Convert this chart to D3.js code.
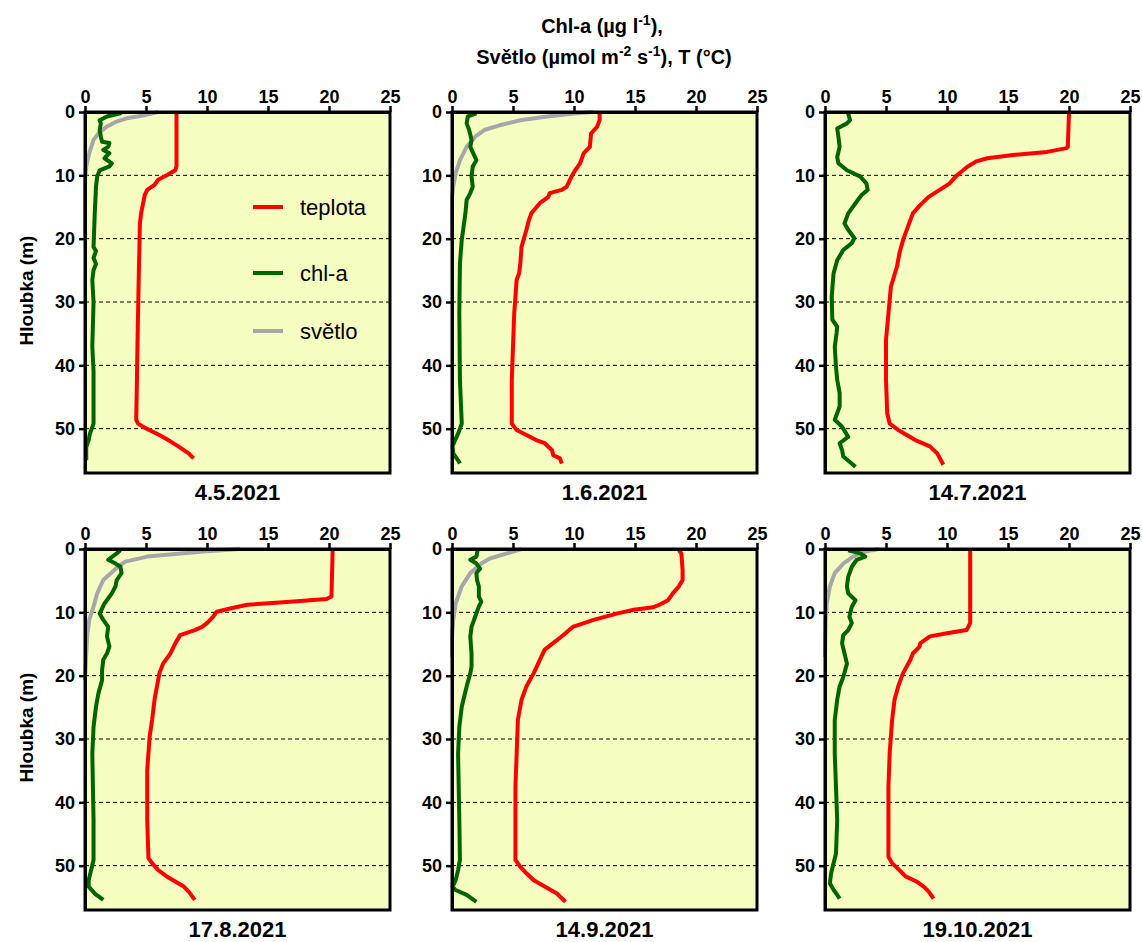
<!DOCTYPE html>
<html>
<head>
<meta charset="utf-8">
<title>Profily</title>
<script src="https://cdn.jsdelivr.net/npm/d3@7"></script>
<style>
  body { margin: 0; background: #fff; }
  svg { font-family: Arial, "Liberation Sans", sans-serif; }
  .tick text { font-weight: bold; font-size: 18px; fill: #000; }
</style>
</head>
<body>
<svg width="1142" height="942"></svg>
<script>
// panel titles (dates)
const dates = ["4.5.2021", "1.6.2021", "14.7.2021", "17.8.2021", "14.9.2021", "19.10.2021"];
const xTicks = [0, 5, 10, 15, 20, 25];
const yTicks = [0, 10, 20, 30, 40, 50];
const gridDepths = [10, 20, 30, 40, 50];

// [depth m, value] pairs
const teplota1 = [[0.1,7.5],[8.6,7.5],[9.2,7.4],[10,6.7],[10.7,6.0],[11.5,5.7],[12.3,5.1],[13.1,4.9],[16,4.6],[17.6,4.5],[26.5,4.4],[37,4.3],[48.6,4.2],[49.2,4.35],[50,5.05],[51,6.1],[52,7.0],[52.8,7.65],[53.9,8.5],[54.7,8.9]];
const chla1 = [[0.1,2.7],[0.2,2.9],[0.7,1.8],[1.3,1.2],[1.8,1.3],[2.9,1.2],[3.9,1.3],[4.7,1.4],[4.9,2.0],[5.5,1.9],[6.0,1.5],[6.5,2.0],[7.3,1.6],[8.1,2.2],[8.6,2.0],[9.2,1.2],[10.2,1.0],[11.8,0.9],[16,0.8],[21.3,0.7],[22,0.9],[23,0.7],[24,0.9],[25,0.7],[26.5,0.6],[30,0.7],[37,0.6],[41,0.7],[47.6,0.7],[49.2,0.7],[50.8,0.4],[51.8,0.3],[52.9,0.1],[55,0.1]];
const svetlo1 = [[0,6.0],[0.5,4.9],[1,3.4],[1.5,2.6],[2.3,1.8],[3.4,1.1],[4.4,0.7],[6.5,0.35],[8.6,0.1],[10.7,0],[19.7,0]];

const teplota2 = [[0.2,12.1],[1.3,12.1],[2.3,11.9],[3.4,11.4],[5.5,11.3],[6.5,10.8],[8.1,10.5],[9.2,10.1],[10.2,9.8],[11.8,9.4],[12.3,9.0],[12.8,8.0],[13.4,7.9],[14.4,7.2],[16,6.5],[17.1,6.3],[18.6,6.1],[21.3,5.7],[23.9,5.6],[25.5,5.5],[26.5,5.3],[31.8,5.1],[37,5.0],[42.3,4.9],[49.2,4.9],[50.2,5.3],[51,6.1],[51.8,6.9],[52.3,7.6],[53.4,8.2],[54.2,8.3],[54.7,8.85],[55.5,9.0]];
const chla2 = [[0.2,2.0],[0.7,1.3],[1.8,1.2],[2.8,1.4],[4.4,1.6],[5.5,1.5],[7.6,2.0],[8.6,1.7],[10.2,1.6],[11.8,1.7],[12.8,1.5],[13.9,1.2],[16,1.1],[20.2,0.8],[23.9,0.65],[31.8,0.6],[42.3,0.65],[49.2,0.8],[50.8,0.5],[51.8,0.25],[52.8,0.05],[53.9,0.1],[55,0.5],[55.5,0.65]];
const svetlo2 = [[0,11.6],[0.2,10.2],[0.7,7.8],[1.3,5.6],[2.1,3.9],[2.8,2.7],[3.9,1.9],[5.5,1.2],[7.6,0.65],[9.7,0.3],[11.8,0.1],[13.4,0],[19.7,0]];

const teplota3 = [[0.2,20.0],[5.5,19.9],[5.7,19.8],[6.3,18.2],[6.8,15.4],[7.3,13.3],[7.8,12.4],[8.6,11.7],[9.4,11.2],[10.2,10.7],[11.3,10.2],[12.3,9.4],[13.4,8.5],[14.7,7.8],[16,7.2],[18.1,6.8],[20.2,6.4],[22.3,6.1],[24.4,5.9],[27.6,5.4],[31.8,5.2],[36,5.0],[42.3,5.0],[47.6,5.1],[49.2,5.3],[50.2,6.0],[51,6.7],[51.8,7.4],[52.8,8.6],[53.9,9.2],[55.7,9.7]];
const chla3 = [[0.2,1.9],[1.3,2.05],[1.8,1.8],[2.6,1.0],[3.9,1.1],[5.5,1.2],[7.1,1.0],[8.1,1.1],[9.2,1.8],[10.2,2.9],[11.3,3.4],[12.3,3.5],[13.1,3.0],[14.4,2.5],[16,1.9],[17.6,1.6],[18.6,1.9],[19.9,2.4],[20.7,2.2],[21.8,1.5],[23.4,1.0],[25.5,0.7],[29.2,0.55],[32.8,0.6],[33.9,1.0],[34.9,0.95],[37.1,0.8],[40.2,0.9],[42.3,1.0],[44.4,1.2],[46.5,1.2],[48.6,0.8],[49.7,1.4],[51.3,1.9],[52.3,1.2],[53.4,1.4],[54.4,1.5],[56,2.5]];

const teplota4 = [[0.2,20.3],[7.5,20.2],[7.9,19.8],[8.3,17.1],[8.8,13.3],[9.4,11.9],[9.9,10.8],[10.7,10.5],[11.7,10.0],[12.3,9.6],[12.8,9.0],[13.6,7.8],[14.9,7.4],[16.5,7.0],[18.1,6.4],[19.6,6.1],[21.7,5.9],[23.8,5.7],[27,5.5],[29.6,5.3],[34.9,5.1],[42.8,5.1],[48.8,5.2],[49.6,5.5],[50.7,6.0],[51.7,6.7],[52.5,7.4],[53.3,8.1],[54.1,8.5],[55.4,9.0]];
const chla4 = [[0.2,2.9],[0.7,2.6],[1.7,1.9],[2.3,2.5],[2.8,2.9],[3.8,3.0],[4.9,2.6],[5.9,2.5],[7.0,2.2],[8.6,1.6],[10.2,1.2],[11.2,1.5],[12.3,1.9],[13.8,1.8],[15.4,2.0],[16.5,1.8],[17.5,1.5],[19.1,1.4],[20.7,1.4],[22.8,1.1],[24.9,0.9],[28.1,0.7],[32.3,0.6],[42.8,0.7],[49.1,0.7],[50.7,0.5],[52.3,0.3],[53.3,0.3],[54.4,0.8],[55.4,1.5]];
const svetlo4 = [[0,12.7],[0.4,9.7],[1.2,5.1],[2.0,3.3],[2.8,2.7],[4.9,1.5],[7.0,1.0],[9.1,0.7],[11.2,0.35],[13.3,0.2],[16.5,0.1],[20.7,0]];

const teplota5 = [[0.2,18.6],[0.7,18.8],[3.3,18.9],[4.9,18.9],[5.9,18.6],[7.0,18.1],[8.1,17.7],[8.8,17.0],[9.2,16.5],[9.6,14.9],[10.2,13.5],[11.2,11.6],[12.3,9.9],[13.3,9.3],[14.4,8.6],[15.9,7.6],[17.5,7.2],[19.6,6.7],[21.7,6.1],[23.8,5.7],[27,5.4],[32.3,5.3],[37.5,5.2],[49.1,5.2],[50.2,5.6],[51.2,6.1],[52.3,6.7],[53.3,7.6],[54.4,8.6],[55.7,9.3]];
const chla5 = [[0.2,2.1],[1.2,2.0],[1.7,1.5],[2.3,2.0],[3.1,2.3],[3.8,2.0],[4.9,2.05],[5.9,2.2],[7.5,2.2],[8.3,2.4],[9.1,2.2],[10.7,1.9],[12.3,1.6],[13.8,1.5],[16.5,1.6],[18.6,1.6],[19.6,1.5],[21.7,1.2],[24.9,0.8],[28.1,0.6],[32.3,0.5],[42.8,0.6],[49.1,0.65],[50.7,0.5],[52.3,0.3],[53.3,0.05],[53.8,0.25],[54.6,1.2],[55.7,2.0]];
const svetlo5 = [[0,5.7],[0.7,4.5],[1.5,3.1],[2.3,2.4],[3.8,1.5],[5.9,0.8],[8.6,0.3],[11.2,0.1],[13.8,0],[17.0,0]];

const teplota6 = [[0.2,11.9],[11.7,11.9],[12.8,11.6],[13.3,10.0],[13.8,8.6],[14.9,7.8],[15.4,7.75],[16.5,7.2],[17.5,7.0],[19.6,6.4],[21.7,6.0],[23.8,5.7],[27,5.5],[32.3,5.3],[37.5,5.2],[48.6,5.2],[49.6,5.5],[50.7,6.1],[51.7,6.6],[52.5,7.5],[53.3,8.1],[54.1,8.5],[55.2,8.9]];
const chla6 = [[0.2,1.9],[0.7,2.9],[1.2,3.3],[1.7,2.6],[2.8,2.2],[4.4,1.9],[5.9,1.8],[7.0,1.9],[8.1,2.5],[9.1,2.2],[10.7,2.0],[11.7,2.2],[12.8,1.9],[13.6,1.5],[14.9,1.4],[16.5,1.6],[18.1,1.8],[20.2,1.5],[21.7,1.2],[23.8,1.0],[27,0.8],[32.3,0.8],[42.8,1.0],[48.1,0.9],[49.6,0.7],[51.2,0.5],[52.8,0.4],[53.8,0.7],[54.6,1.0],[55.2,1.2]];
const svetlo6 = [[0,4.4],[0.4,3.3],[1.2,2.3],[2.3,1.5],[3.8,0.8],[5.9,0.4],[8.6,0.15],[11.2,0.05],[17.0,0]];

const teplotaAll = [teplota1, teplota2, teplota3, teplota4, teplota5, teplota6];
const chlaAll = [chla1, chla2, chla3, chla4, chla5, chla6];
const svetloAll = [svetlo1, svetlo2, null, svetlo4, svetlo5, svetlo6];

const legendNames = ["teplota", "chl-a", "světlo"];
const colors = {teplota: "#ff0000", chla: "#006400", svetlo: "#a7a7a9"};

const panelLeft = [85, 452, 825];
const panelTop = [112, 549];
const pw = 305, ph = 361;

const svg = d3.select("svg");

// title (two lines, superscripts as tspans)
const title = svg.append("text")
    .attr("text-anchor", "middle")
    .style("font-weight", "bold")
    .style("font-size", "20px");
const l1 = title.append("tspan").attr("x", 602).attr("y", 33);
l1.append("tspan").text("Chl-a (µg l");
l1.append("tspan").attr("dy", -8).style("font-size", "14px").text("-1");
l1.append("tspan").attr("dy", 8).text("),");
const l2 = title.append("tspan").attr("x", 604).attr("y", 64);
l2.append("tspan").text("Světlo (µmol m");
l2.append("tspan").attr("dy", -8).style("font-size", "14px").text("-2");
l2.append("tspan").attr("dy", 8).text(" s");
l2.append("tspan").attr("dy", -8).style("font-size", "14px").text("-1");
l2.append("tspan").attr("dy", 8).text("), T (°C)");

dates.forEach((date, i) => {
    const col = i % 3, row = Math.floor(i / 3);
    const g = svg.append("g")
        .attr("transform", `translate(${panelLeft[col]},${panelTop[row]})`);

    const x = d3.scaleLinear().domain([0, 25]).range([0, pw]);
    const y = d3.scaleLinear().domain([0, 57]).range([0, ph]);

    g.append("rect")
        .attr("width", pw).attr("height", ph)
        .attr("fill", "#f5fdc1");

    // dashed grid
    g.selectAll(".grid").data(gridDepths).enter().append("line")
        .attr("x1", 0).attr("x2", pw)
        .attr("y1", d => y(d)).attr("y2", d => y(d))
        .attr("stroke", "#000").attr("stroke-width", 1)
        .attr("stroke-dasharray", "4,3");

    const line = d3.line().x(d => x(d[1])).y(d => y(d[0]));

    if (svetloAll[i]) {
        g.append("path").datum(svetloAll[i])
            .attr("d", line).attr("fill", "none")
            .attr("stroke", colors.svetlo).attr("stroke-width", 4)
            .attr("stroke-linejoin", "round");
    }
    g.append("path").datum(chlaAll[i])
        .attr("d", line).attr("fill", "none")
        .attr("stroke", colors.chla).attr("stroke-width", 4)
        .attr("stroke-linejoin", "round");
    g.append("path").datum(teplotaAll[i])
        .attr("d", line).attr("fill", "none")
        .attr("stroke", colors.teplota).attr("stroke-width", 4)
        .attr("stroke-linejoin", "round");

    // frame
    g.append("rect")
        .attr("width", pw).attr("height", ph)
        .attr("fill", "none").attr("stroke", "#000").attr("stroke-width", 3);

    const xAxis = g.append("g")
        .call(d3.axisTop(x).tickValues(xTicks).tickSize(6).tickSizeOuter(0).tickPadding(3));
    const yAxis = g.append("g")
        .call(d3.axisLeft(y).tickValues(yTicks).tickSize(6).tickSizeOuter(0).tickPadding(4));
    [xAxis, yAxis].forEach(a => {
        a.select(".domain").attr("stroke-width", 3);
        a.selectAll(".tick line").attr("stroke-width", 2.5);
    });

    g.append("text")
        .attr("x", pw / 2).attr("y", ph + 27)
        .attr("text-anchor", "middle")
        .style("font-weight", "bold").style("font-size", "22px")
        .text(date);

    if (col === 0) {
        g.append("text")
            .attr("transform", `translate(${-52},${ph / 2 - 2}) rotate(-90)`)
            .attr("text-anchor", "middle")
            .style("font-weight", "bold").style("font-size", "19px")
            .text("Hloubka (m)");
    }

    // legend in first panel
    if (i === 0) {
        const legCols = [colors.teplota, colors.chla, colors.svetlo];
        const legY = [95, 161, 219];
        legendNames.forEach((name, k) => {
            g.append("line")
                .attr("x1", 168).attr("x2", 198)
                .attr("y1", legY[k]).attr("y2", legY[k])
                .attr("stroke", legCols[k]).attr("stroke-width", 4);
            g.append("text")
                .attr("x", 215).attr("y", legY[k] + 8)
                .style("font-size", "22px")
                .text(name);
        });
    }
});
</script>
</body>
</html>
